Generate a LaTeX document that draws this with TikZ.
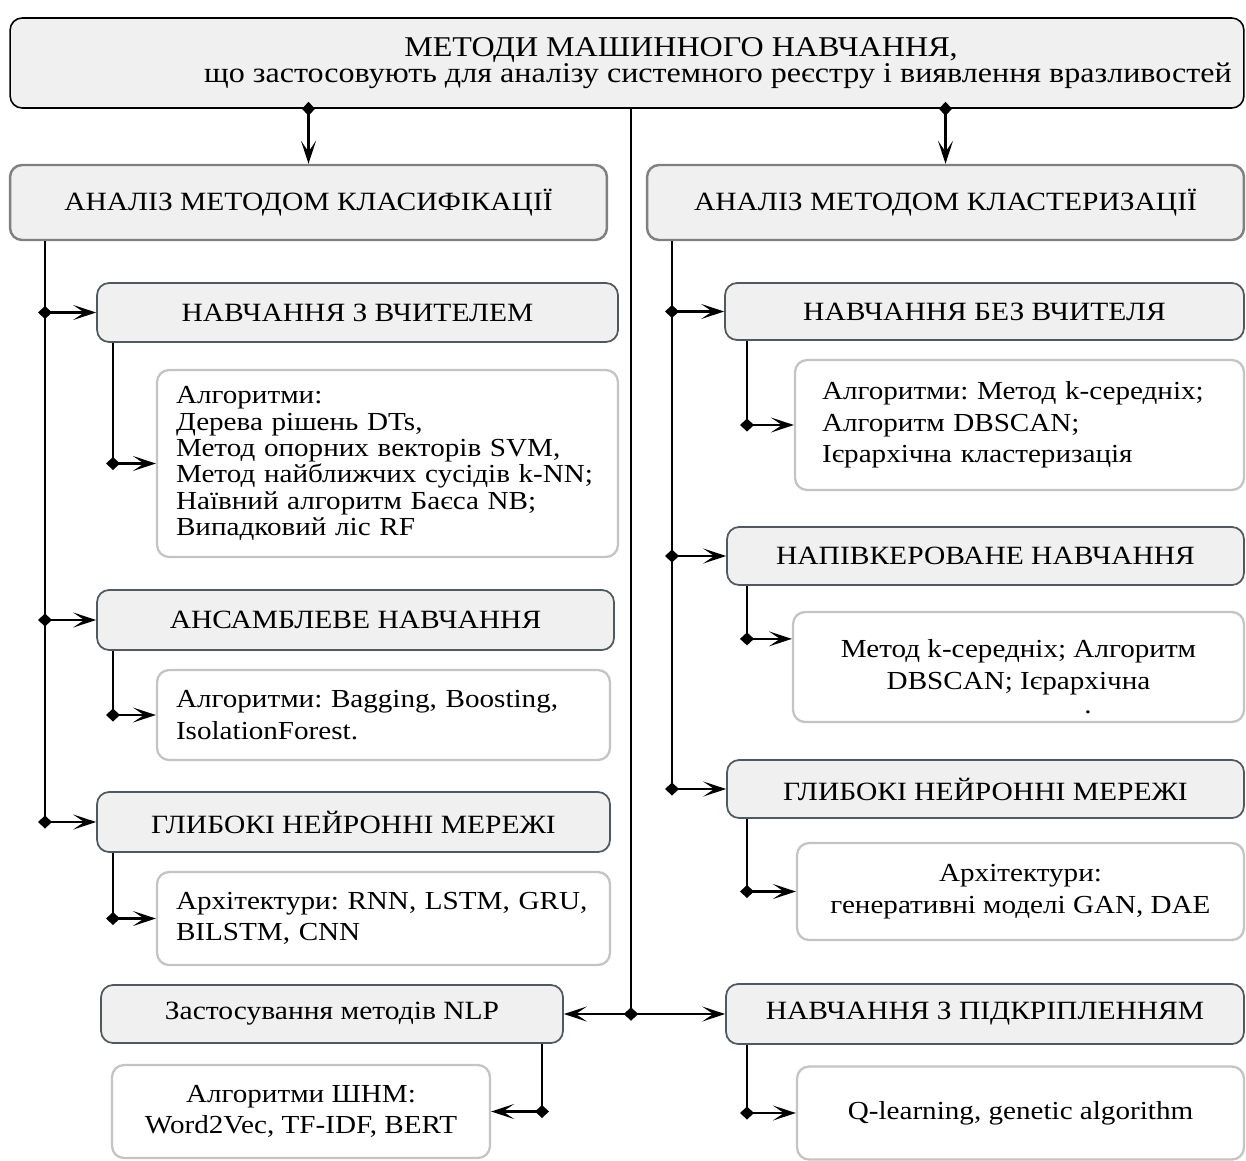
\documentclass[tikz,border=0pt]{standalone}
\usepackage{fontspec}
\setmainfont{Liberation Serif}[FakeStretch=1.12]
\usepackage{xcolor}
\usetikzlibrary{arrows.meta}

\definecolor{boxfill}{HTML}{F0F0F0}
\definecolor{groupframe}{HTML}{808080}
\definecolor{methodframe}{HTML}{4F5A60}
\definecolor{listframe}{HTML}{C4C4C4}

\newcommand{\ttlfont}{\fontsize{16.3}{15}\selectfont}
\newcommand{\hdfont}{\fontsize{15}{17}\selectfont}
\newcommand{\lsfont}{\fontsize{14.8}{18}\selectfont}
\newcommand{\tightfont}{\fontsize{14.8}{15}\selectfont}

\tikzset{
  topbox/.style={rectangle, rounded corners=0.24cm, fill=boxfill, draw=black, line width=0.9pt},
  groupbox/.style={rectangle, rounded corners=0.24cm, fill=boxfill, draw=groupframe, line width=1.4pt, font=\hdfont},
  methodbox/.style={rectangle, rounded corners=0.24cm, fill=boxfill, draw=methodframe, line width=1pt, font=\hdfont},
  listbox/.style={rectangle, rounded corners=0.24cm, fill=white, draw=listframe, line width=1.3pt, font=\lsfont, inner xsep=0.38cm},
  bus/.style={line width=1.2pt},
  link/.style={bus, {Diamond[length=0.28cm,width=0.26cm]}-{Stealth[length=0.46cm,width=0.3cm,inset=0.22cm]}, shorten <=-0.14cm},
}

\begin{document}
\frenchspacing
\begin{tikzpicture}[x=0.02cm, y=-0.02cm]
  \useasboundingbox (0,0) rectangle (1246,1160);

  % top
  \node[topbox, minimum width=24.68cm, minimum height=1.8cm] (top) at (627,63) {};
  \node[font=\ttlfont, align=center] (toptext) at (718,63)
    {МЕТОДИ МАШИННОГО НАВЧАННЯ,\hspace*{1.48cm}\\що застосовують для аналізу системного реєстру і виявлення вразливостей};

  % classification side
  \node[groupbox, minimum width=11.94cm, minimum height=1.5cm] (classif) at (308.5,202.5) {АНАЛІЗ МЕТОДОМ КЛАСИФІКАЦІЇ};
  \node[methodbox, minimum width=10.42cm, minimum height=1.18cm] (sup) at (357.5,312.5) {НАВЧАННЯ З ВЧИТЕЛЕМ};
  \node[listbox, align=left, text width=8.46cm, minimum height=3.74cm, font=\tightfont] (suplist) at (387.5,463.5)
    {Алгоритми:\\Дерева рішень DTs,\\Метод опорних векторів SVM,\\Метод найближчих сусідів k-NN;\\Наївний алгоритм Баєса NB;\\Випадковий ліс RF};
  \node[methodbox, minimum width=10.34cm, minimum height=1.2cm] (ens) at (355.5,620) {АНСАМБЛЕВЕ НАВЧАННЯ};
  \node[listbox, align=left, text width=8.3cm, minimum height=1.8cm] (enslist) at (383.5,715)
    {Алгоритми: Bagging, Boosting,\\IsolationForest.};
  \node[methodbox, minimum width=10.26cm, minimum height=1.2cm] (deepL) at (353.5,822) {ГЛИБОКІ НЕЙРОННІ МЕРЕЖІ};
  \node[listbox, align=left, text width=8.3cm, minimum height=1.86cm] (deepLlist) at (383.5,918.5)
    {Архітектури: RNN, LSTM, GRU,\\BILSTM, CNN};
  \node[methodbox, minimum width=9.24cm, minimum height=1.16cm] (nlp) at (332,1014) {Застосування методів NLP};
  \node[listbox, align=center, minimum width=7.56cm, minimum height=1.86cm] (nlplist) at (301,1111.5)
    {Алгоритми ШНМ:\\Word2Vec, TF-IDF, BERT};

  % clustering side
  \node[groupbox, minimum width=11.94cm, minimum height=1.5cm] (clust) at (945.5,202.5) {АНАЛІЗ МЕТОДОМ КЛАСТЕРИЗАЦІЇ};
  \node[methodbox, minimum width=10.38cm, minimum height=1.14cm] (unsup) at (984.5,311.5) {НАВЧАННЯ БЕЗ ВЧИТЕЛЯ};
  \node[listbox, align=left, inner xsep=0.54cm, text width=7.9cm, minimum height=2.6cm] (unsuplist) at (1019.5,425)
    {Алгоритми: Метод k-середніх;\\Алгоритм DBSCAN;\\Ієрархічна кластеризація};
  \node[methodbox, minimum width=10.34cm, minimum height=1.16cm] (semi) at (985.5,556) {НАПІВКЕРОВАНЕ НАВЧАННЯ};
  \node[listbox, align=center, minimum width=9.02cm, minimum height=2.2cm] (semilist) at (1018.5,667)
    {Метод k-середніх; Алгоритм\\DBSCAN; Ієрархічна};
  \node[font=\lsfont, inner sep=0pt, anchor=base] (semidot) at (1088,713) {.};
  \node[methodbox, minimum width=10.34cm, minimum height=1.16cm] (deepR) at (985.5,789) {ГЛИБОКІ НЕЙРОННІ МЕРЕЖІ};
  \node[listbox, align=center, minimum width=8.94cm, minimum height=1.94cm] (deepRlist) at (1020.5,891.5)
    {Архітектури:\\генеративні моделі GAN, DAE};
  \node[methodbox, minimum width=10.36cm, minimum height=1.2cm] (reinf) at (985,1014) {НАВЧАННЯ З ПІДКРІПЛЕННЯМ};
  \node[listbox, align=center, minimum width=8.94cm, minimum height=1.86cm] (reinflist) at (1020.5,1113)
    {Q-learning, genetic algorithm};

  % bus lines
  \coordinate (lbus) at (45,0);
  \coordinate (lsub) at (113,0);
  \coordinate (rbus) at (672,0);
  \coordinate (rsub) at (747,0);
  \coordinate (nsub) at (542,0);
  \coordinate (mid) at (631,1014);
  \coordinate (semiin) at ([yshift=-0.56cm]semilist.north west);

  \draw[link] (top.south -| classif.north) -- (classif.north);
  \draw[link] (top.south -| clust.north) -- (clust.north);
  \draw[bus] (top.south -| mid) -- (mid);
  \draw[link] (mid) -- (nlp.east);
  \draw[link] (mid) -- (reinf.west);

  \draw[bus] (classif.south -| lbus) -- (deepL.west -| lbus);
  \draw[link] (sup.west -| lbus) -- (sup.west);
  \draw[link] (ens.west -| lbus) -- (ens.west);
  \draw[link] (deepL.west -| lbus) -- (deepL.west);
  \draw[bus] (sup.south -| lsub) -- (suplist.west -| lsub);
  \draw[link] (suplist.west -| lsub) -- (suplist.west);
  \draw[bus] (ens.south -| lsub) -- (enslist.west -| lsub);
  \draw[link] (enslist.west -| lsub) -- (enslist.west);
  \draw[bus] (deepL.south -| lsub) -- (deepLlist.west -| lsub);
  \draw[link] (deepLlist.west -| lsub) -- (deepLlist.west);
  \draw[bus] (nlp.south -| nsub) -- (nlplist.east -| nsub);
  \draw[link] (nlplist.east -| nsub) -- (nlplist.east);

  \draw[bus] (clust.south -| rbus) -- (deepR.west -| rbus);
  \draw[link] (unsup.west -| rbus) -- (unsup.west);
  \draw[link] (semi.west -| rbus) -- (semi.west);
  \draw[link] (deepR.west -| rbus) -- (deepR.west);
  \draw[bus] (unsup.south -| rsub) -- (unsuplist.west -| rsub);
  \draw[link] (unsuplist.west -| rsub) -- (unsuplist.west);
  \draw[bus] (semi.south -| rsub) -- (semiin -| rsub);
  \draw[link] (semiin -| rsub) -- (semiin);
  \draw[bus] (deepR.south -| rsub) -- (deepRlist.west -| rsub);
  \draw[link] (deepRlist.west -| rsub) -- (deepRlist.west);
  \draw[bus] (reinf.south -| rsub) -- (reinflist.west -| rsub);
  \draw[link] (reinflist.west -| rsub) -- (reinflist.west);
\end{tikzpicture}
\end{document}
